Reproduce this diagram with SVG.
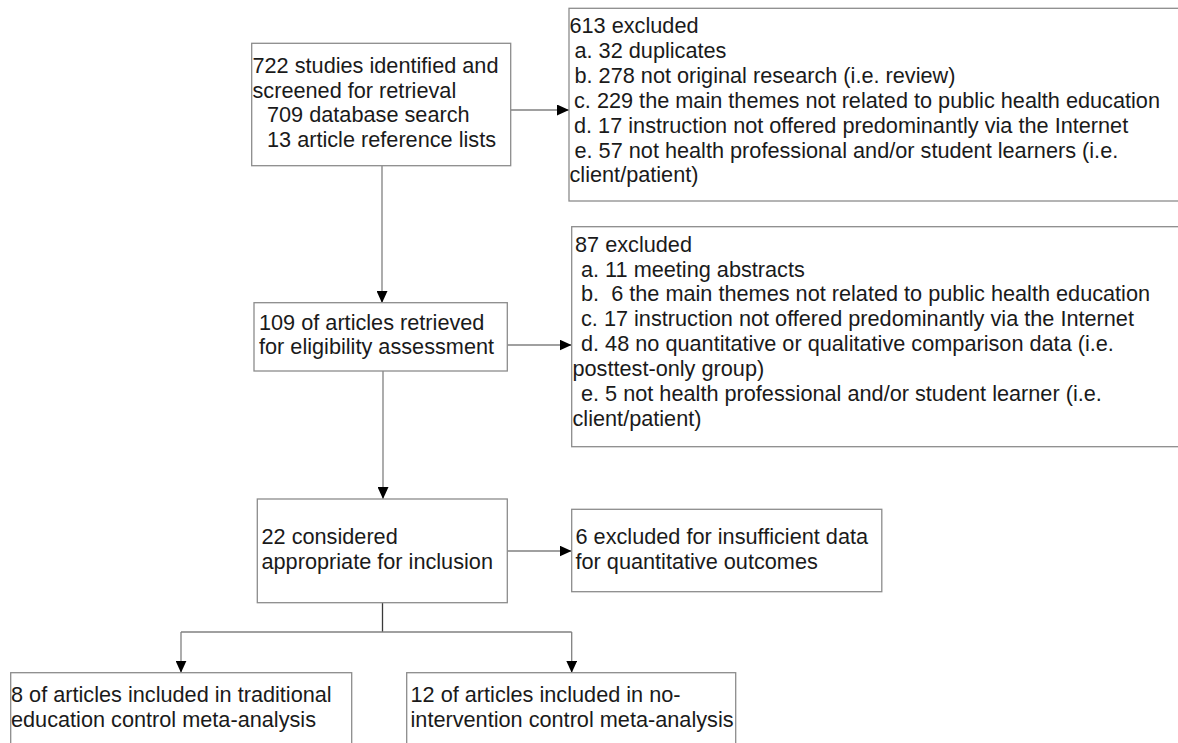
<svg xmlns="http://www.w3.org/2000/svg" width="1178" height="743" viewBox="0 0 1178 743">
<style>
.box{fill:#ffffff;stroke:#8c8c8c;stroke-width:1.3}
.t{font-family:"Liberation Sans",Arial,sans-serif;font-size:21.7px;fill:#1a1a1a}
.c{stroke:#808080;stroke-width:1.3;fill:none}
.cd{stroke:#3a3a3a;stroke-width:1.3;fill:none}
</style>
<defs>
<marker id="ah" markerUnits="userSpaceOnUse" markerWidth="12" markerHeight="11" refX="12" refY="5.5" orient="auto">
<path d="M0,0 L12,5.5 L0,11 Z" fill="#000"/>
</marker>
</defs>
<rect width="1178" height="743" fill="#ffffff"/>
<g id="connectors">
<line class="c" x1="511" y1="110" x2="569" y2="110" marker-end="url(#ah)"/>
<line class="c" x1="382" y1="166" x2="382" y2="303" marker-end="url(#ah)"/>
<line class="c" x1="507" y1="345" x2="571.5" y2="345" marker-end="url(#ah)"/>
<line class="c" x1="383" y1="371" x2="383" y2="499" marker-end="url(#ah)"/>
<line class="c" x1="507" y1="551" x2="571.5" y2="551" marker-end="url(#ah)"/>
<line class="cd" x1="382.5" y1="603" x2="382.5" y2="632"/>
<line class="c" x1="181" y1="632" x2="571.7" y2="632"/>
<line class="c" x1="181" y1="632" x2="181" y2="672.7" marker-end="url(#ah)"/>
<line class="c" x1="571.7" y1="632" x2="571.7" y2="672.7" marker-end="url(#ah)"/>
</g>
<g id="n-identified">
<rect class="box" x="251.7" y="43.3" width="259" height="122.4"/>
<text class="t" x="252.5" y="72.7">722 studies identified and</text>
<text class="t" x="252.5" y="97.5">screened for retrieval</text>
<text class="t" x="267" y="122.4">709 database search</text>
<text class="t" x="267" y="147.2">13 article reference lists</text>
</g>
<g id="n-excluded613">
<rect class="box" x="569" y="8.3" width="620" height="192.7"/>
<text class="t" x="569.5" y="33.3">613 excluded</text>
<text class="t" x="574.5" y="58.1">a. 32 duplicates</text>
<text class="t" x="574.5" y="83">b. 278 not original research (i.e. review)</text>
<text class="t" x="574" y="107.8">c. 229 the main themes not related to public health education</text>
<text class="t" x="574" y="132.7">d. 17 instruction not offered predominantly via the Internet</text>
<text class="t" x="574.5" y="157.5">e. 57 not health professional and/or student learners (i.e.</text>
<text class="t" x="569.5" y="182.3">client/patient)</text>
</g>
<g id="n-retrieved">
<rect class="box" x="254" y="302.7" width="253.3" height="68.3"/>
<text class="t" x="259" y="329.5">109 of articles retrieved</text>
<text class="t" x="259" y="354.3">for eligibility assessment</text>
</g>
<g id="n-excluded87">
<rect class="box" x="571.7" y="226.7" width="620" height="220"/>
<text class="t" x="575" y="251.7">87 excluded</text>
<text class="t" x="581" y="276.5" xml:space="preserve">a. 11 meeting abstracts</text>
<text class="t" x="581" y="301.4" xml:space="preserve">b.  6 the main themes not related to public health education</text>
<text class="t" x="581" y="326.2">c. 17 instruction not offered predominantly via the Internet</text>
<text class="t" x="581" y="351.1">d. 48 no quantitative or qualitative comparison data (i.e.</text>
<text class="t" x="572.5" y="375.9">posttest-only group)</text>
<text class="t" x="581" y="400.7">e. 5 not health professional and/or student learner (i.e.</text>
<text class="t" x="572.5" y="425.6">client/patient)</text>
</g>
<g id="n-considered">
<rect class="box" x="257.3" y="499" width="250" height="103.7"/>
<text class="t" x="261.5" y="544">22 considered</text>
<text class="t" x="261.5" y="568.8">appropriate for inclusion</text>
</g>
<g id="n-excluded6">
<rect class="box" x="571.7" y="509.3" width="310.1" height="82.4"/>
<text class="t" x="575.5" y="544">6 excluded for insufficient data</text>
<text class="t" x="575.5" y="568.8">for quantitative outcomes</text>
</g>
<g id="n-traditional">
<rect class="box" x="10.7" y="672.7" width="341" height="100"/>
<text class="t" x="11" y="701.7">8 of articles included in traditional</text>
<text class="t" x="11" y="726.5">education control meta-analysis</text>
</g>
<g id="n-nointervention">
<rect class="box" x="406.7" y="672.7" width="329" height="100"/>
<text class="t" x="410.5" y="702.3">12 of articles included in no-</text>
<text class="t" x="410.5" y="727.1">intervention control meta-analysis</text>
</g>
</svg>
